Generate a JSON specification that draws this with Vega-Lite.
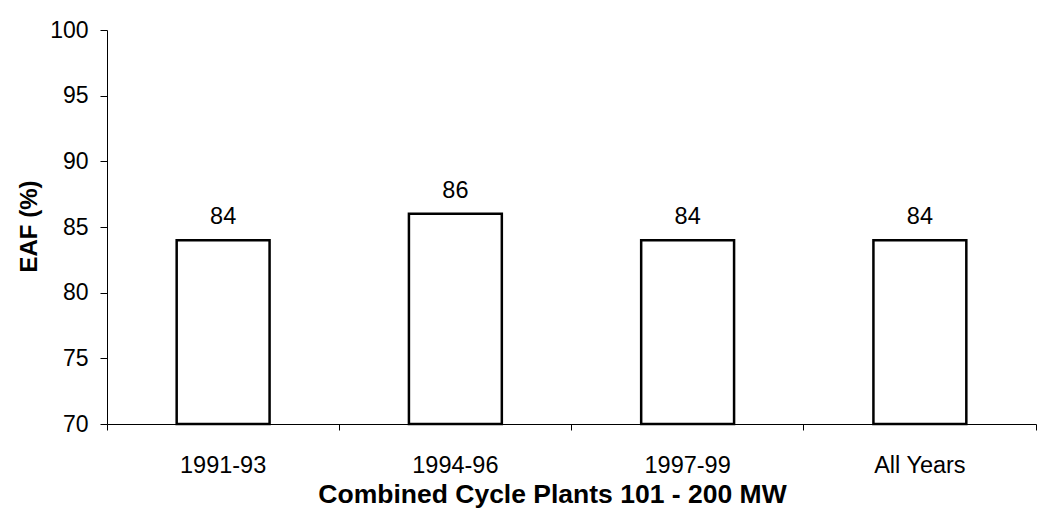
{
  "$schema": "https://vega.github.io/schema/vega-lite/v6.json",
  "width": 929,
  "height": 394,
  "autosize": {"type": "none"},
  "padding": {"left": 107, "top": 30, "right": 9, "bottom": 99},
  "background": "white",
  "config": {
    "font": "Liberation Sans",
    "view": {"stroke": null},
    "axis": {"grid": false, "domainColor": "black", "tickColor": "black", "labelColor": "black", "titleColor": "black", "labelFont": "Liberation Sans", "titleFont": "Liberation Sans"}
  },
  "data": {
    "values": [
      {"period": "1991-93", "eaf": 84},
      {"period": "1994-96", "eaf": 86},
      {"period": "1997-99", "eaf": 84},
      {"period": "All Years", "eaf": 84}
    ]
  },
  "encoding": {
    "x": {
      "field": "period",
      "type": "nominal",
      "sort": null,
      "scale": {"paddingInner": 0, "paddingOuter": 0},
      "axis": {
        "title": "Combined Cycle Plants 101 - 200 MW",
        "titleFontSize": 26.5,
        "titleFontWeight": "bold",
        "titleBaseline": "alphabetic",
        "titleAlign": "center",
        "titleX": 445,
        "titleY": 78,
        "labelAngle": 0,
        "labelFontSize": 23.5,
        "labelPadding": 23,
        "tickSize": 6,
        "bandPosition": 1,
        "tickExtra": true
      }
    }
  },
  "layer": [
    {
      "mark": {"type": "bar", "fill": "white", "stroke": "black", "strokeWidth": 2.5, "width": {"band": 0.4}},
      "encoding": {
        "y": {
          "field": "eaf",
          "type": "quantitative",
          "scale": {"domain": [70, 100], "zero": false, "nice": false},
          "axis": {
            "title": "EAF (%)",
            "titleFontSize": 24,
            "titleFontWeight": "bold",
            "titleBaseline": "alphabetic",
            "titleX": -71,
            "titleY": 196,
            "titleAlign": "center",
            "values": [70, 75, 80, 85, 90, 95, 100],
            "labelFontSize": 23,
            "labelPadding": 12,
            "tickSize": 7
          }
        },
        "y2": {"datum": 70}
      }
    },
    {
      "mark": {"type": "text", "baseline": "alphabetic", "dy": -16, "fontSize": 23.5, "color": "black"},
      "encoding": {
        "y": {"field": "eaf", "type": "quantitative"},
        "text": {"field": "eaf", "type": "quantitative"}
      }
    }
  ]
}
